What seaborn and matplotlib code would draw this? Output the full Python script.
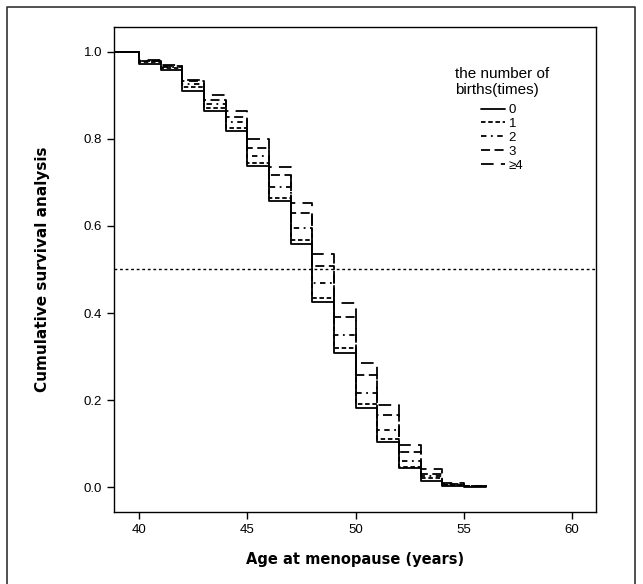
import matplotlib
matplotlib.use("Agg", force=True)
import matplotlib.pyplot as plt
import pandas as pd
import seaborn as sns
from matplotlib.lines import Line2D

# step times (age at menopause); first point sits left of the axis edge
ages = [38, 40, 41, 42, 43, 44, 45, 46, 47, 48, 49, 50, 51, 52, 53, 54, 55, 56]

surv_0 = [1.0, 0.972, 0.958, 0.910, 0.865, 0.819, 0.737, 0.658, 0.558, 0.426, 0.309, 0.183, 0.104, 0.043, 0.014, 0.002, 0.001, 0.0]
surv_1 = [1.0, 0.976, 0.962, 0.918, 0.872, 0.826, 0.745, 0.665, 0.568, 0.435, 0.320, 0.192, 0.110, 0.047, 0.020, 0.005, 0.002, 0.001]
surv_2 = [1.0, 0.978, 0.965, 0.925, 0.880, 0.838, 0.760, 0.690, 0.595, 0.469, 0.349, 0.217, 0.131, 0.060, 0.025, 0.006, 0.002, 0.001]
surv_3 = [1.0, 0.980, 0.968, 0.932, 0.890, 0.850, 0.780, 0.717, 0.630, 0.508, 0.391, 0.257, 0.166, 0.081, 0.030, 0.008, 0.003, 0.001]
surv_4 = [1.0, 0.982, 0.970, 0.936, 0.900, 0.864, 0.800, 0.736, 0.653, 0.535, 0.423, 0.285, 0.189, 0.098, 0.041, 0.010, 0.003, 0.001]

groups = ["0", "1", "2", "3", "≥4"]
x_ticks = [40, 45, 50, 55, 60]
y_ticks = [0.0, 0.2, 0.4, 0.6, 0.8, 1.0]
median_line = 0.5

dash_styles = {"0": "", "1": (2.5, 1.5), "2": (3, 2.5, 1, 2.5), "3": (5, 2.5), "≥4": (7, 4)}


def main() -> None:
    frames = []
    for name, vals in zip(groups, [surv_0, surv_1, surv_2, surv_3, surv_4]):
        frames.append(pd.DataFrame({"age": ages, "survival": vals, "births": name}))
    df = pd.concat(frames, ignore_index=True)

    sns.set_style("ticks")
    plt.rcParams["font.family"] = ["Liberation Sans", "DejaVu Sans"]
    plt.rcParams["text.color"] = "black"
    plt.rcParams["axes.labelcolor"] = "black"

    fig = plt.figure(figsize=(6.43, 5.84), dpi=100)
    ax = fig.add_axes([0.1773, 0.1233, 0.7496, 0.8305])

    sns.lineplot(
        data=df, x="age", y="survival", style="births", style_order=groups,
        dashes=dash_styles, color="black", linewidth=1.3, estimator=None,
        drawstyle="steps-post", legend=False, ax=ax,
    )
    ax.axhline(median_line, color="black", linestyle=(0, (2, 2)), linewidth=1.0)

    ax.set_xlim(38.85, 61.1)
    ax.set_ylim(-0.057, 1.057)
    ax.set_xticks(x_ticks)
    ax.set_yticks(y_ticks)
    ax.set_yticklabels([f"{v:.1f}" for v in y_ticks])
    ax.tick_params(direction="out", length=5, width=1, labelsize=9.5, colors="black")
    for sp in ax.spines.values():
        sp.set_visible(True)
        sp.set_color("black")
        sp.set_linewidth(1.0)

    ax.set_xlabel("Age at menopause (years)", fontsize=10.5, fontweight="bold",
                  family=["DejaVu Sans"], labelpad=12)
    ax.set_ylabel("Cumulative survival analysis", fontsize=11, fontweight="bold",
                  family=["DejaVu Sans"], labelpad=24)

    handles = [Line2D([], [], color="black", linewidth=1.3, dashes=dash_styles[g])
               for g in groups[1:]]
    handles.insert(0, Line2D([], [], color="black", linewidth=1.3))
    leg = ax.legend(handles, groups, title="the number of\nbirths(times)",
                    loc="upper center", bbox_to_anchor=(502 / 643, 1 - 55 / 584),
                    bbox_transform=fig.transFigure, frameon=False, fontsize=9.5,
                    title_fontsize=11, handlelength=1.8, handletextpad=0.3,
                    labelspacing=0.12)
    leg._legend_box.align = "center"
    leg._legend_box.sep = 5

    # outer frame around the whole picture
    fx0, fy0, fx1 = 7 / 643, 1 - 7 / 584, 635 / 643
    fig.add_artist(Line2D([fx0, fx0, fx1, fx1], [-0.01, fy0, fy0, -0.01],
                          transform=fig.transFigure, color="#333333", linewidth=1.2))

    fig.savefig("out.png", dpi=100)
    plt.close(fig)


if __name__ == "__main__":
    main()
